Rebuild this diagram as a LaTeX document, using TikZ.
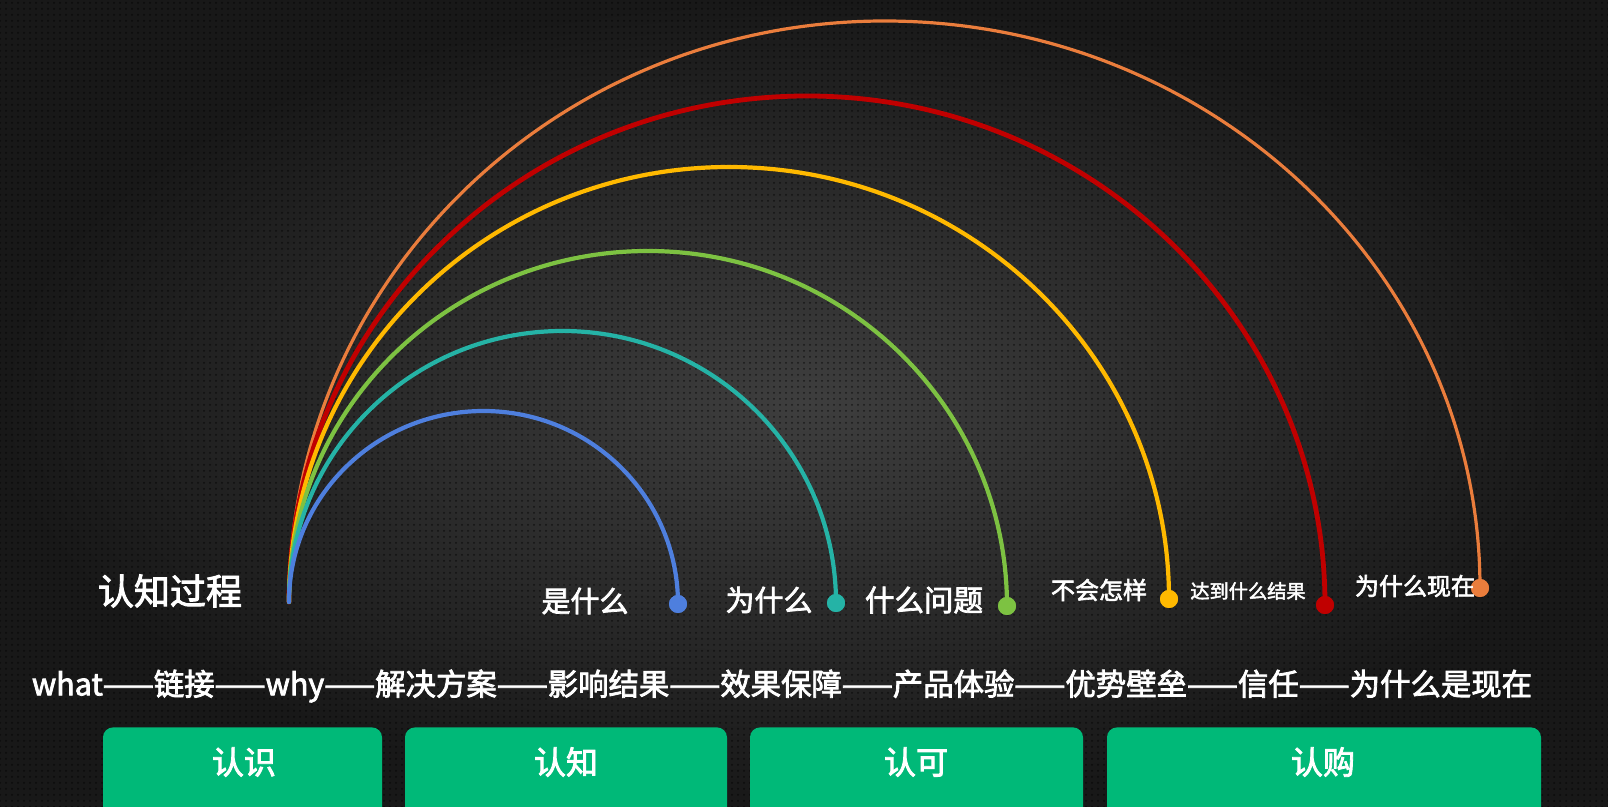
\documentclass[tikz,border=0pt]{standalone}
\usepackage{fontspec}
\setmainfont{Noto Sans CJK SC}[FakeBold=2.5]
\usetikzlibrary{patterns}
\definecolor{bgin}{HTML}{3E3E3E}
\definecolor{bgout}{HTML}{181818}
\definecolor{cblue}{HTML}{4E7FDE}
\definecolor{cteal}{HTML}{25B3A6}
\definecolor{cgreen}{HTML}{7DC242}
\definecolor{cyellow}{HTML}{FFB900}
\definecolor{cred}{HTML}{C00000}
\definecolor{corange}{HTML}{EA7D3C}
\definecolor{cbox}{HTML}{00B978}
\tikzset{
  arcline/.style={line cap=round},
  enddot/.style={circle, inner sep=0pt, minimum size=9pt},
  wtext/.style={text=white, inner sep=0pt, font=\fontsize{#1}{#1}\selectfont},
  gbox/.style={fill=cbox, rounded corners=5pt, inner sep=0pt, minimum height=52pt},
}
\begin{document}
\begin{tikzpicture}[x=0.5pt, y=-0.5pt]
\clip (0,0) rectangle (1608,807);
\shade[inner color=bgin, outer color=bgout] (0,0) rectangle (1608,807);
\fill[pattern=dots, pattern color=black, opacity=0.55] (0,0) rectangle (1608,807);

\coordinate (o) at (289,602);

% end dots
\node[enddot, fill=cblue]   (d1) at (678,604) {};
\node[enddot, fill=cteal]   (d2) at (836,603) {};
\node[enddot, fill=cgreen]  (d3) at (1007,606) {};
\node[enddot, fill=cyellow] (d4) at (1169,599) {};
\node[enddot, fill=cred]    (d5) at (1325,605) {};
\node[enddot, fill=corange] (d6) at (1480,588) {};

% arcs (outermost first)
\draw[arcline, corange, line width=1.6pt] (o)
  arc[start angle=180, end angle=90, x radius=297.75pt, y radius=290.5pt]
  arc[start angle=90, end angle=0, x radius=297.75pt, y radius=283.5pt];
\draw[arcline, cred, line width=2.4pt] (o)
  arc[start angle=180, end angle=90, x radius=259pt, y radius=253pt]
  arc[start angle=90, end angle=0, x radius=259pt, y radius=254.5pt];
\draw[arcline, cyellow, line width=2.1pt] (o)
  arc[start angle=180, end angle=90, x radius=220pt, y radius=217.5pt]
  arc[start angle=90, end angle=0, x radius=220pt, y radius=216pt];
\draw[arcline, cgreen, line width=2.1pt] (o)
  arc[start angle=180, end angle=90, x radius=179.5pt, y radius=175.5pt]
  arc[start angle=90, end angle=0, x radius=179.5pt, y radius=177.5pt];
\draw[arcline, cteal, line width=2.1pt] (o)
  arc[start angle=180, end angle=90, x radius=136.75pt, y radius=135.5pt]
  arc[start angle=90, end angle=0, x radius=136.75pt, y radius=136pt];
\draw[arcline, cblue, line width=2.1pt] (o)
  arc[start angle=180, end angle=90, x radius=97.25pt, y radius=95.5pt]
  arc[start angle=90, end angle=0, x radius=97.25pt, y radius=96.5pt];

% redraw dots on top
\foreach \n/\c in {d1/cblue,d2/cteal,d3/cgreen,d4/cyellow,d5/cred,d6/corange}
  \fill[\c] (\n) circle (4.5pt);

% labels
\node[wtext=18pt] (title) at (170,591) {认知过程};
\node[wtext=14.5pt] (l1) at (585,601) {是什么};
\node[wtext=14.5pt] (l2) at (769,600) {为什么};
\node[wtext=14.75pt] (l3) at (924,600) {什么问题};
\node[wtext=12pt] (l4) at (1099,590) {不会怎样};
\node[wtext=9.6pt] (l5) at (1248,591) {达到什么结果};
\node[wtext=12pt] (l6) at (1415,586) {为什么现在};

\node[wtext=15.2pt] (line) at (782,686) {what——链接——why——解决方案——影响结果——效果保障——产品体验——优势壁垒——信任——为什么是现在};

% boxes
\node[gbox, minimum width=139.5pt, anchor=north] (b1) at (242.5,727) {};
\node[gbox, minimum width=161pt, anchor=north] (b2) at (566,727) {};
\node[gbox, minimum width=166.5pt, anchor=north] (b3) at (916.5,727) {};
\node[gbox, minimum width=217pt, anchor=north] (b4) at (1324,727) {};
\node[wtext=16pt] (t1) at (244,762) {认识};
\node[wtext=16pt] (t2) at (566,762) {认知};
\node[wtext=16pt] (t3) at (916,762) {认可};
\node[wtext=16pt] (t4) at (1323,762) {认购};
\end{tikzpicture}
\end{document}
